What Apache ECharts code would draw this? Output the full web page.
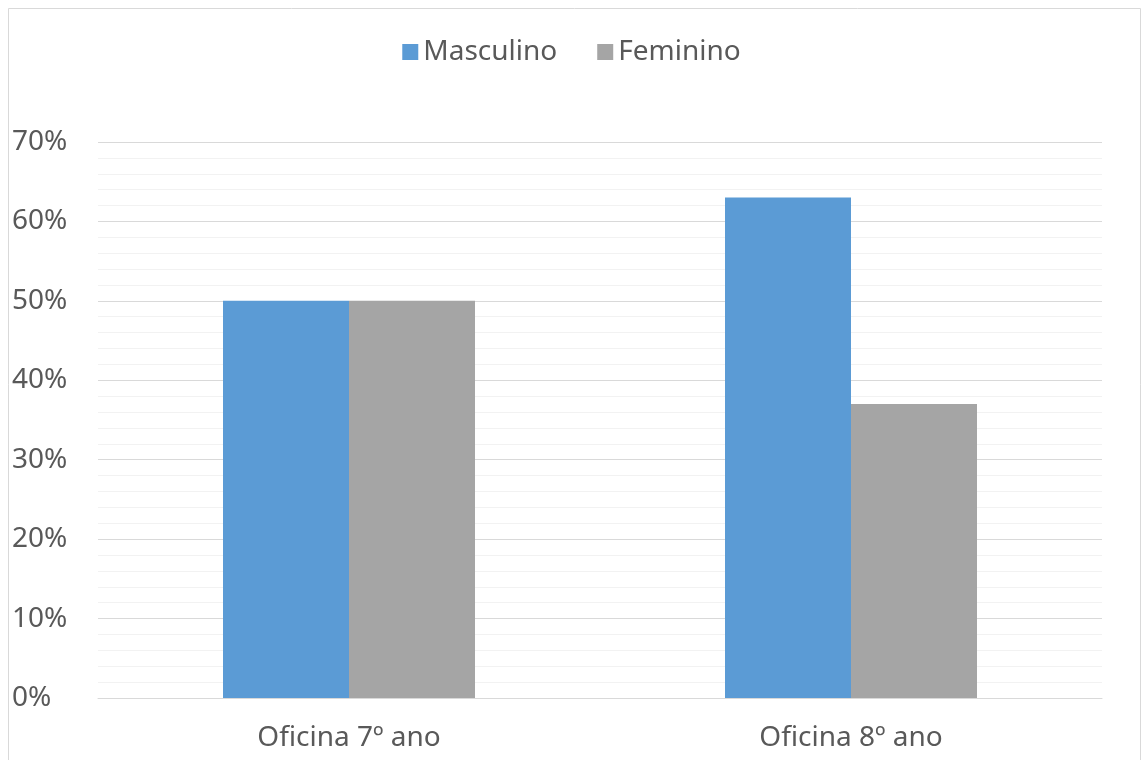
<!DOCTYPE html>
<html><head><meta charset="utf-8">
<script src="https://cdn.jsdelivr.net/npm/echarts@6/dist/echarts.min.js"></script>
<style>html,body{margin:0;padding:0;background:#fff}#c{width:1143px;height:760px}</style>
</head><body><div id="c"></div>
<script>
const categories = ['Oficina 7º ano', 'Oficina 8º ano'];
const masculino = [50, 63];
const feminino = [50, 37];
const seriesNames = ['Masculino', 'Feminino'];

const chart = echarts.init(document.getElementById('c'), null, {renderer: 'canvas'});
const font = 'Noto Sans';
chart.setOption({
  animation: false,
  backgroundColor: '#fff',
  graphic: [{type: 'rect', shape: {x: 8.5, y: 8.5, width: 1132, height: 800}, style: {fill: 'none', stroke: '#d9d9d9', lineWidth: 1}}],
  legend: {
    top: 33, left: 'center', itemWidth: 16, itemHeight: 16, itemGap: 40,
    icon: 'rect',
    textStyle: {fontFamily: font, fontSize: 28, color: '#595959'},
    data: seriesNames
  },
  grid: {left: 98, right: 41, top: 142, bottom: 62, containLabel: false},
  xAxis: {
    type: 'category', data: categories,
    axisLine: {lineStyle: {color: '#d9d9d9', width: 1}},
    axisTick: {show: false},
    axisLabel: {fontFamily: font, fontSize: 28, color: '#595959', margin: 26}
  },
  yAxis: {
    type: 'value', min: 0, max: 70, interval: 10,
    axisLine: {show: false}, axisTick: {show: false},
    axisLabel: {fontFamily: font, fontSize: 28, color: '#595959', formatter: '{value}%', align: 'left', margin: 86},
    splitLine: {lineStyle: {color: '#d9d9d9', width: 1}},
    minorTick: {show: false, splitNumber: 5},
    minorSplitLine: {show: true, lineStyle: {color: '#f2f2f2', width: 1}}
  },
  series: [
    {name: seriesNames[0], type: 'bar', data: masculino, barWidth: 126, barGap: '0%', itemStyle: {color: '#5b9bd5'}},
    {name: seriesNames[1], type: 'bar', data: feminino, barWidth: 126, barGap: '0%', itemStyle: {color: '#a5a5a5'}}
  ]
});
</script></body></html>
